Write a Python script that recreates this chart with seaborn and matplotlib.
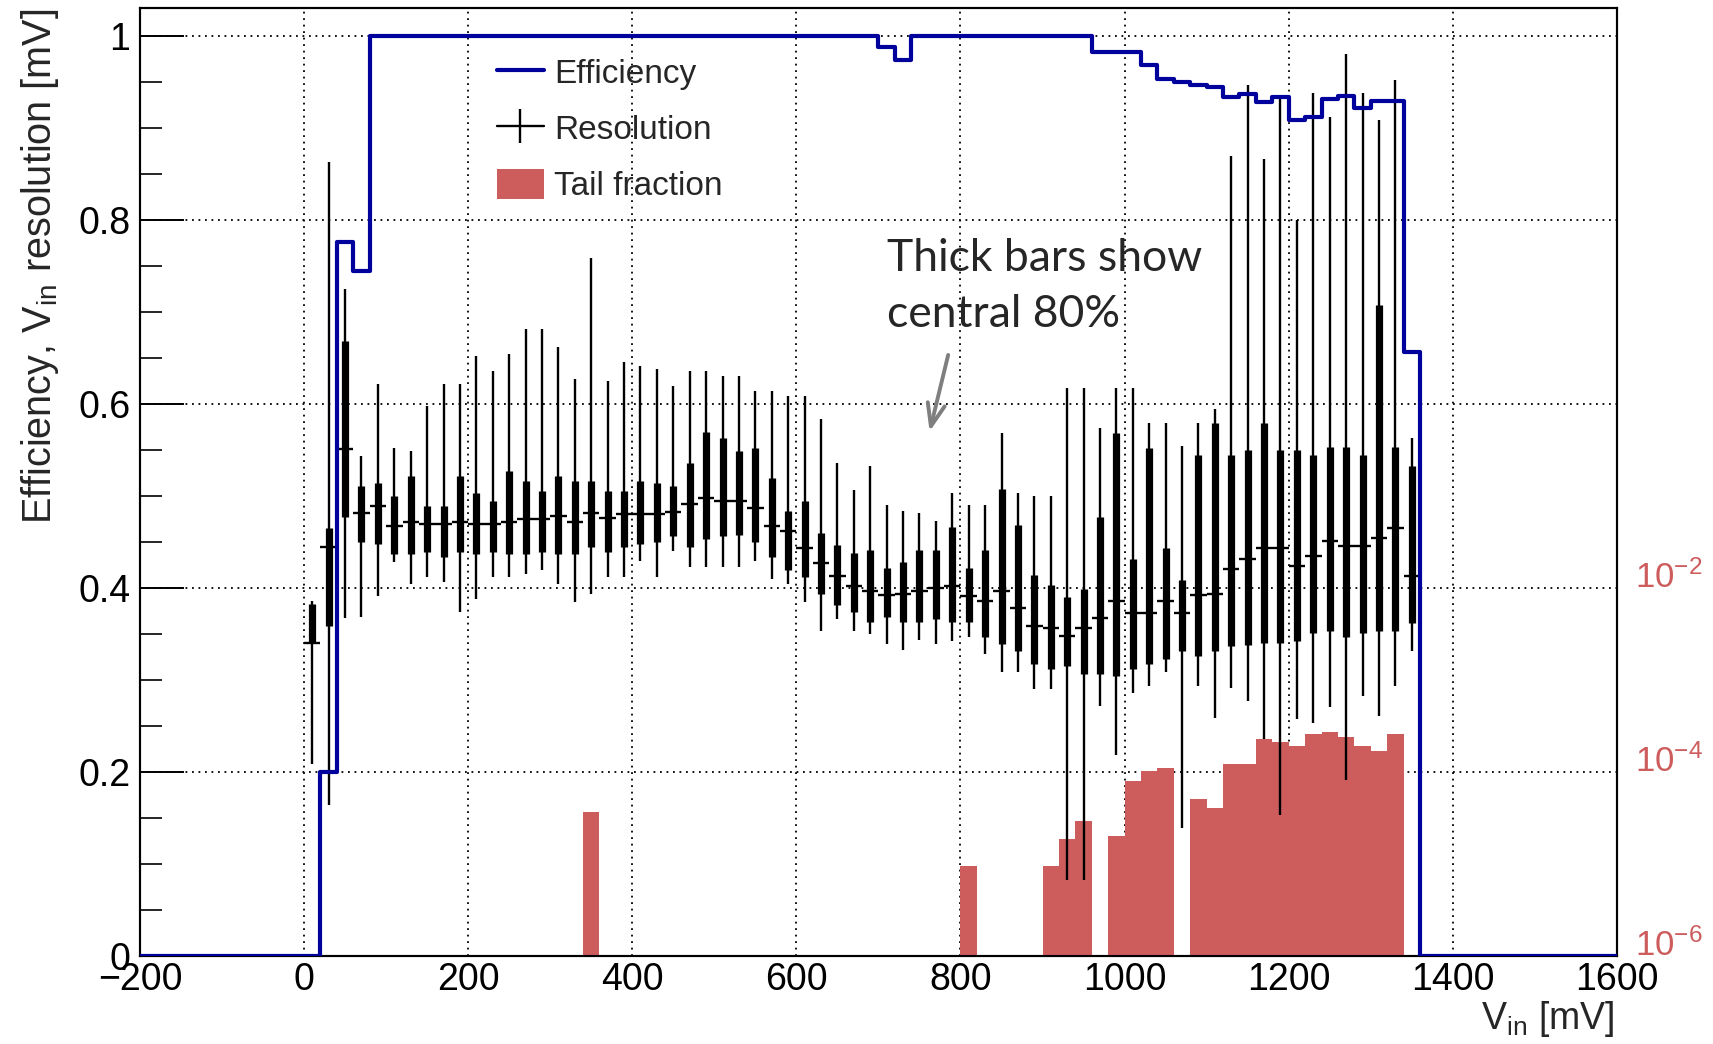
import numpy as np
import pandas as pd
import matplotlib
matplotlib.use("Agg")
import matplotlib.pyplot as plt
import seaborn as sns
from matplotlib.lines import Line2D
from matplotlib.patches import Patch
from matplotlib.ticker import MultipleLocator, FixedLocator, NullLocator

# ---------------- data ----------------
res_center = [10, 30, 50, 70, 90, 110, 130, 150, 170, 190,
              210, 230, 250, 270, 290, 310, 330, 350, 370, 390,
              410, 430, 450, 470, 490, 510, 530, 550, 570, 590,
              610, 630, 650, 670, 690, 710, 730, 750, 770, 790,
              810, 830, 850, 870, 890, 910, 930, 950, 970, 990,
              1010, 1030, 1050, 1070, 1090, 1110, 1130, 1150, 1170, 1190,
              1210, 1230, 1250, 1270, 1290, 1310, 1330, 1350]
res_whisk_lo = [0.209, 0.164, 0.367, 0.369, 0.391, 0.428, 0.404, 0.412, 0.407, 0.374,
                0.388, 0.412, 0.412, 0.415, 0.420, 0.404, 0.385, 0.394, 0.412, 0.412,
                0.429, 0.412, 0.440, 0.423, 0.423, 0.423, 0.423, 0.429, 0.410, 0.404,
                0.385, 0.353, 0.366, 0.353, 0.350, 0.339, 0.333, 0.344, 0.339, 0.342,
                0.347, 0.328, 0.309, 0.309, 0.290, 0.290, 0.083, 0.083, 0.272, 0.218,
                0.286, 0.293, 0.309, 0.139, 0.294, 0.259, 0.291, 0.277, 0.236, 0.153,
                0.258, 0.253, 0.271, 0.191, 0.283, 0.261, 0.294, 0.332]
res_thick_lo = [0.340, 0.359, 0.477, 0.450, 0.448, 0.437, 0.437, 0.439, 0.434, 0.439,
                0.437, 0.439, 0.437, 0.437, 0.439, 0.437, 0.437, 0.445, 0.439, 0.445,
                0.448, 0.450, 0.456, 0.445, 0.453, 0.456, 0.458, 0.450, 0.434, 0.420,
                0.412, 0.393, 0.382, 0.374, 0.363, 0.369, 0.363, 0.363, 0.366, 0.363,
                0.363, 0.347, 0.339, 0.331, 0.317, 0.312, 0.315, 0.307, 0.307, 0.304,
                0.312, 0.317, 0.323, 0.331, 0.326, 0.332, 0.337, 0.338, 0.340, 0.340,
                0.342, 0.351, 0.353, 0.347, 0.351, 0.353, 0.353, 0.362]
res_median = [0.340, 0.445, 0.551, 0.481, 0.489, 0.467, 0.472, 0.470, 0.470, 0.472,
              0.470, 0.470, 0.472, 0.475, 0.475, 0.478, 0.472, 0.481, 0.476, 0.480,
              0.480, 0.480, 0.483, 0.491, 0.498, 0.495, 0.495, 0.487, 0.467, 0.462,
              0.443, 0.427, 0.413, 0.402, 0.397, 0.392, 0.394, 0.397, 0.400, 0.402,
              0.391, 0.386, 0.397, 0.378, 0.359, 0.356, 0.348, 0.356, 0.367, 0.386,
              0.373, 0.373, 0.386, 0.373, 0.392, 0.394, 0.421, 0.432, 0.443, 0.443,
              0.424, 0.435, 0.451, 0.446, 0.446, 0.454, 0.465, 0.413]
res_thick_hi = [0.383, 0.465, 0.668, 0.511, 0.514, 0.500, 0.522, 0.489, 0.489, 0.522,
                0.503, 0.495, 0.527, 0.516, 0.505, 0.522, 0.516, 0.516, 0.505, 0.505,
                0.516, 0.514, 0.511, 0.536, 0.570, 0.563, 0.549, 0.552, 0.519, 0.484,
                0.495, 0.460, 0.447, 0.438, 0.441, 0.422, 0.428, 0.441, 0.441, 0.466,
                0.422, 0.441, 0.508, 0.468, 0.414, 0.403, 0.390, 0.399, 0.477, 0.568,
                0.432, 0.552, 0.443, 0.409, 0.544, 0.579, 0.545, 0.550, 0.579, 0.550,
                0.550, 0.545, 0.553, 0.553, 0.545, 0.708, 0.553, 0.533]
res_whisk_hi = [0.386, 0.863, 0.725, 0.543, 0.622, 0.552, 0.549, 0.598, 0.622, 0.622,
                0.652, 0.636, 0.654, 0.682, 0.682, 0.662, 0.627, 0.759, 0.625, 0.646,
                0.641, 0.638, 0.620, 0.636, 0.636, 0.630, 0.630, 0.614, 0.614, 0.609,
                0.609, 0.584, 0.536, 0.506, 0.533, 0.490, 0.484, 0.481, 0.473, 0.503,
                0.490, 0.490, 0.568, 0.503, 0.500, 0.500, 0.617, 0.617, 0.574, 0.617,
                0.617, 0.579, 0.579, 0.554, 0.579, 0.595, 0.869, 0.947, 0.866, 0.932,
                0.800, 0.938, 0.912, 0.980, 0.938, 0.909, 0.952, 0.563]
bin_half = 10

eff_edges = [-200, 0, 20, 40, 60, 80, 700, 720, 740, 960, 1020, 1040, 1060, 1080,
             1100, 1120, 1140, 1160, 1180, 1200, 1220, 1240, 1260, 1280, 1300, 1340,
             1360, 1600]
eff_values = [0.0, 0.0, 0.200, 0.776, 0.744, 1.0, 0.988, 0.974, 1.0, 0.983, 0.9685,
              0.953, 0.950, 0.947, 0.944, 0.934, 0.937, 0.928, 0.934, 0.909, 0.912,
              0.931, 0.935, 0.922, 0.929, 0.656, 0.0]

tail_bin_lo = [340, 800, 900, 920, 940, 980, 1000, 1020, 1040, 1080, 1100, 1120,
               1140, 1160, 1180, 1200, 1220, 1240, 1260, 1280, 1300, 1320]
tail_fraction = [3.67e-5, 9.55e-6, 9.55e-6, 1.89e-5, 2.90e-5, 2.02e-5, 7.96e-5,
                 1.026e-4, 1.096e-4, 5.05e-5, 4.02e-5, 1.222e-4, 1.222e-4, 2.265e-4,
                 2.14e-4, 1.92e-4, 2.56e-4, 2.74e-4, 2.42e-4, 1.92e-4, 1.69e-4, 2.56e-4]
tail_bin_width = 20

x_ticks = [-200, 0, 200, 400, 600, 800, 1000, 1200, 1400, 1600]
x_tick_labels = ["\u2212200", "0", "200", "400", "600", "800", "1000", "1200", "1400", "1600"]
y_ticks = [0, 0.2, 0.4, 0.6, 0.8, 1.0]
y_tick_labels = ["0", "0.2", "0.4", "0.6", "0.8", "1"]
tail_ticks = [1e-6, 1e-4, 1e-2]
tail_tick_labels = [r"$\mathregular{10^{-6}}$", r"$\mathregular{10^{-4}}$", r"$\mathregular{10^{-2}}$"]

# ---------------- style ----------------
BLUE = "#00009c"
RED = "#cd5c5c"
sns.set_style("white")
plt.rcParams["font.family"] = ["Liberation Sans", "DejaVu Sans"]
plt.rcParams["mathtext.fontset"] = "custom"
plt.rcParams["mathtext.rm"] = "Liberation Sans"
plt.rcParams["mathtext.it"] = "Liberation Sans:italic"
plt.rcParams["mathtext.bf"] = "Liberation Sans:bold"

Y_TOP = 1.0299
X_LIM = (-200, 1600)

fig = plt.figure(figsize=(17.13, 10.44), dpi=100)
pos = [0.0817, 0.0843, 0.8622, 0.9076]
ax = fig.add_axes(pos)
ax2 = ax.twinx()
ax3 = fig.add_axes(pos, sharex=ax, sharey=ax)
ax3.set_axis_off()

# ---------------- tail fraction (log right axis) ----------------
ax2.set_yscale("log")
tail_df = pd.DataFrame({"V": np.array(tail_bin_lo) + tail_bin_width / 2,
                        "frac": tail_fraction})
sns.histplot(data=tail_df, x="V", weights="frac", binwidth=tail_bin_width,
             binrange=(0, 1360), ax=ax2, color=RED, alpha=1.0, linewidth=0,
             element="bars", fill=True)
ax2.set_ylabel("")
ax2.set_ylim(1e-6, 10 ** (-6 + 10 * Y_TOP))

# ---------------- resolution ----------------
ax3.vlines(res_center, res_whisk_lo, res_whisk_hi, colors="k", lw=1.7)
ax3.vlines(res_center, res_thick_lo, res_thick_hi, colors="k", lw=5.2)
ax3.errorbar(res_center, res_median, xerr=bin_half, fmt="none", ecolor="k",
             elinewidth=1.7, capsize=0)

# ---------------- efficiency ----------------
eff_df = pd.DataFrame({"V": eff_edges, "eff": eff_values + [eff_values[-1]]})
sns.lineplot(data=eff_df, x="V", y="eff", ax=ax3, color=BLUE, lw=3.0,
             drawstyle="steps-post", estimator=None, sort=False)

# ---------------- axes ----------------
ax.set_xlim(*X_LIM)
ax.set_ylim(0, Y_TOP)
ax.set_xlabel("")
ax.set_ylabel("")
ax.xaxis.set_major_locator(FixedLocator(x_ticks))
ax.set_xticklabels(x_tick_labels)
ax.xaxis.set_minor_locator(MultipleLocator(50))
ax.yaxis.set_major_locator(FixedLocator(y_ticks))
ax.set_yticklabels(y_tick_labels)
ax.yaxis.set_minor_locator(MultipleLocator(0.05))
ax.tick_params(axis="x", which="major", direction="in", length=20, width=1.4,
               labelsize=27, pad=4.5, top=False, colors="k")
ax.tick_params(axis="x", which="minor", direction="in", length=10, width=1.4, top=False)
ax.tick_params(axis="y", which="major", direction="in", length=31.7, width=1.4,
               labelsize=27, pad=7, right=False, colors="k")
ax.tick_params(axis="y", which="minor", direction="in", length=15.8, width=1.4, right=False)
ax.grid(True, which="major", color="k", linestyle=(0, (1, 2.6)), lw=1.3)
for a in (ax, ax2):
    for s in a.spines.values():
        s.set_color("k")
        s.set_linewidth(1.5)

ax2.yaxis.set_major_locator(FixedLocator(tail_ticks))
ax2.set_yticklabels(tail_tick_labels, va="baseline")
ax2.yaxis.set_minor_locator(NullLocator())
ax2.tick_params(axis="y", which="both", length=0, labelsize=25, labelcolor=RED, pad=13)

# ---------------- legend ----------------
handles = [Line2D([], [], color=BLUE, lw=3.0),
           Line2D([], [], color="k", lw=1.7, marker="|", markersize=25,
                  markeredgewidth=1.7),
           Patch(facecolor=RED, edgecolor="none")]
labels = ["Efficiency", "Resolution", "Tail fraction"]
ax3.legend(handles, labels, loc="upper left", bbox_to_anchor=(0.2417, 0.9493),
           frameon=False, fontsize=24, handlelength=1.41, handleheight=1.0,
           handletextpad=0.3, labelspacing=0.69, borderpad=0, borderaxespad=0,
           numpoints=1)

# ---------------- texts ----------------
fig.text(0.0234, 0.9919, r"Efficiency, V$_{\mathregular{in}}$ resolution [mV]",
         rotation=90, ha="center", va="top", fontsize=28.5)
fig.text(0.9428, 0.0144, r"V$_{\mathregular{in}}$ [mV]", ha="right",
         va="baseline", fontsize=27)

ax3.text(0.5058, 0.7228, "Thick bars show", transform=ax3.transAxes,
         fontfamily="Lato", fontsize=32, va="baseline", ha="left")
ax3.text(0.5058, 0.6637, "central 80%", transform=ax3.transAxes,
         fontfamily="Lato", fontsize=32, va="baseline", ha="left")
ax3.annotate("", xy=(762.4, 0.5701), xytext=(785.0, 0.6533),
             arrowprops=dict(arrowstyle="->,head_length=0.65,head_width=0.25",
                             color="#7f7f7f", lw=2.8, mutation_scale=25,
                             shrinkA=0, shrinkB=0))

ax.set_xlim(*X_LIM)
ax.set_ylim(0, Y_TOP)

fig.savefig("out.png", dpi=100)
